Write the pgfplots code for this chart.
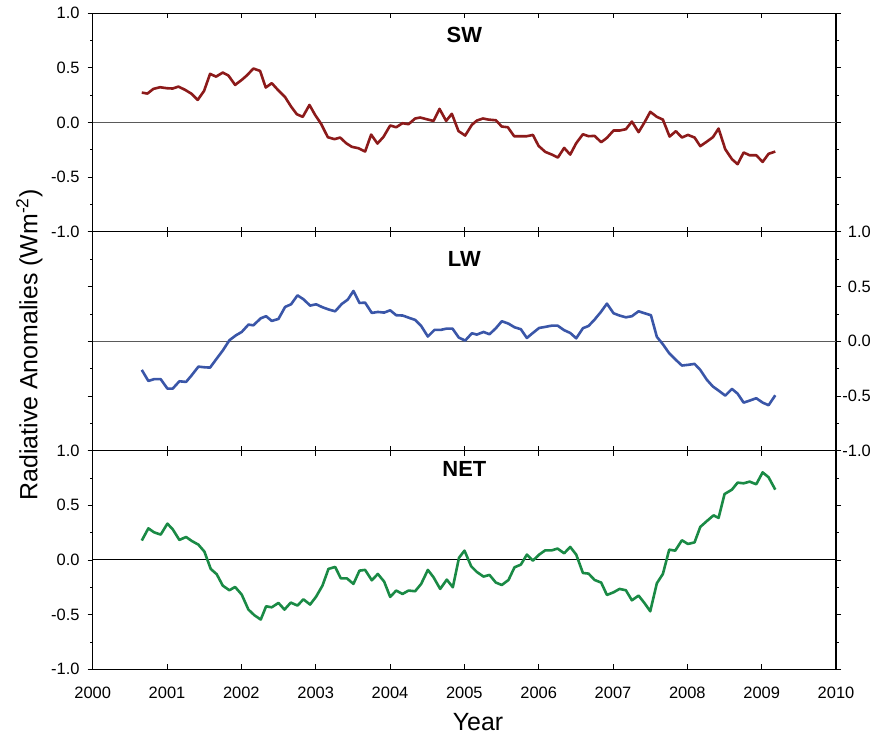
\documentclass[border=0pt]{standalone}
\usepackage{fontspec}
\setmainfont{Liberation Sans}
\usepackage{pgfplots}
\pgfplotsset{compat=1.18}
\definecolor{swred}{RGB}{140,26,26}
\definecolor{lwblue}{RGB}{58,86,168}
\definecolor{netgreen}{RGB}{26,138,69}
\definecolor{zerogray}{RGB}{90,90,90}

\pgfplotsset{
  panel/.style={
    scale only axis, width=743.3bp, height=218.7bp,
    xmin=2000, xmax=2010, ymin=-1, ymax=1,
    xtick={2000,2001,...,2010},
    ytick={-1,-0.5,0,0.5,1},
    minor ytick={-0.75,-0.25,0.25,0.75},
    /pgf/number format/assume math mode=true,
    x tick label style={/pgf/number format/set thousands separator={}},
    y tick label style={/pgf/number format/fixed, /pgf/number format/fixed zerofill, /pgf/number format/precision=1},
    xtick align=inside, ytick align=outside,
    xtick pos=both, ytick pos=both,
    major tick length=5bp, minor tick length=2.5bp,
    tick style={black, line width=0.8bp},
    axis line style={black, line width=1.1bp},
    every tick label/.append style={font=\fontsize{16.5}{18}\selectfont},
    xticklabel style={yshift=-14bp},
  },
  datastyle/.style={line width=2.6bp, line join=round},
}

\begin{document}
\begin{tikzpicture}

% ---------------- SW (top) ----------------
\begin{axis}[panel, at={(0,437.4bp)}, anchor=south west,
  xticklabels={}, yticklabel pos=left, ytick pos=both,
  yticklabel style={inner sep=0pt, anchor=east, xshift=-8bp}]
\addplot[zerogray, line width=1.3bp, forget plot] coordinates {(2000,0) (2010,0)};
\addplot[swred, datastyle] table {
x y
2000.660 0.274
2000.736 0.265
2000.817 0.308
2000.906 0.323
2000.996 0.314
2001.077 0.311
2001.153 0.329
2001.243 0.299
2001.332 0.262
2001.413 0.207
2001.498 0.289
2001.579 0.445
2001.660 0.420
2001.750 0.457
2001.826 0.430
2001.916 0.344
2002.005 0.390
2002.073 0.430
2002.162 0.494
2002.252 0.472
2002.328 0.320
2002.409 0.360
2002.499 0.293
2002.589 0.232
2002.669 0.146
2002.746 0.076
2002.826 0.052
2002.916 0.161
2002.992 0.070
2003.073 -0.012
2003.163 -0.134
2003.253 -0.152
2003.329 -0.137
2003.410 -0.189
2003.486 -0.222
2003.576 -0.235
2003.665 -0.265
2003.746 -0.110
2003.831 -0.192
2003.912 -0.131
2004.002 -0.027
2004.083 -0.043
2004.168 -0.006
2004.249 -0.015
2004.338 0.037
2004.406 0.046
2004.495 0.030
2004.585 0.015
2004.666 0.125
2004.755 0.015
2004.832 0.080
2004.921 -0.078
2005.011 -0.119
2005.101 -0.021
2005.168 0.018
2005.249 0.037
2005.325 0.027
2005.424 0.021
2005.504 -0.037
2005.585 -0.043
2005.670 -0.125
2005.760 -0.125
2005.841 -0.125
2005.922 -0.113
2005.998 -0.213
2006.088 -0.268
2006.177 -0.293
2006.258 -0.320
2006.343 -0.232
2006.424 -0.293
2006.505 -0.189
2006.595 -0.107
2006.671 -0.125
2006.752 -0.122
2006.841 -0.180
2006.918 -0.140
2007.007 -0.073
2007.088 -0.073
2007.173 -0.061
2007.254 0.009
2007.344 -0.088
2007.425 0.003
2007.501 0.098
2007.590 0.052
2007.671 0.027
2007.761 -0.128
2007.846 -0.079
2007.927 -0.137
2008.008 -0.113
2008.097 -0.137
2008.174 -0.216
2008.263 -0.174
2008.344 -0.134
2008.420 -0.055
2008.510 -0.244
2008.600 -0.335
2008.676 -0.381
2008.757 -0.274
2008.838 -0.299
2008.927 -0.299
2009.013 -0.360
2009.093 -0.286
2009.183 -0.265
};
\node[font=\bfseries\fontsize{22}{24}\selectfont] at (axis cs:2005,0.797) {SW};
\end{axis}

% ---------------- LW (middle) ----------------
\begin{axis}[panel, at={(0,218.7bp)}, anchor=south west,
  xticklabels={}, yticklabel pos=right, ytick pos=both,
  yticklabel style={inner sep=0pt, anchor=east, xshift=30bp}]
\addplot[zerogray, line width=1.3bp, forget plot] coordinates {(2000,0) (2010,0)};
\addplot[lwblue, datastyle] table {
x y
2000.660 -0.262
2000.749 -0.363
2000.825 -0.347
2000.915 -0.347
2001.005 -0.433
2001.077 -0.433
2001.166 -0.366
2001.256 -0.372
2001.332 -0.311
2001.422 -0.232
2001.503 -0.238
2001.579 -0.241
2001.669 -0.158
2001.750 -0.085
2001.839 0.009
2001.929 0.055
2002.005 0.085
2002.095 0.152
2002.162 0.146
2002.261 0.210
2002.333 0.229
2002.409 0.186
2002.499 0.204
2002.589 0.314
2002.669 0.338
2002.755 0.420
2002.835 0.384
2002.925 0.326
2003.006 0.338
2003.091 0.311
2003.181 0.289
2003.262 0.274
2003.351 0.341
2003.432 0.381
2003.508 0.460
2003.589 0.350
2003.665 0.353
2003.755 0.259
2003.836 0.268
2003.921 0.262
2004.002 0.283
2004.083 0.238
2004.172 0.235
2004.249 0.216
2004.338 0.195
2004.419 0.140
2004.509 0.043
2004.598 0.104
2004.684 0.104
2004.764 0.116
2004.840 0.116
2004.925 0.034
2005.011 0.006
2005.101 0.073
2005.168 0.061
2005.258 0.085
2005.338 0.064
2005.424 0.119
2005.504 0.183
2005.594 0.161
2005.675 0.128
2005.760 0.110
2005.841 0.030
2005.922 0.076
2006.007 0.122
2006.088 0.131
2006.177 0.143
2006.254 0.143
2006.343 0.101
2006.424 0.076
2006.505 0.027
2006.595 0.119
2006.671 0.140
2006.752 0.198
2006.837 0.268
2006.918 0.344
2007.007 0.256
2007.088 0.235
2007.173 0.219
2007.254 0.229
2007.344 0.274
2007.425 0.256
2007.510 0.238
2007.590 0.040
2007.667 -0.024
2007.756 -0.110
2007.837 -0.165
2007.927 -0.222
2008.008 -0.216
2008.097 -0.207
2008.174 -0.262
2008.263 -0.353
2008.344 -0.414
2008.420 -0.451
2008.510 -0.497
2008.600 -0.436
2008.676 -0.479
2008.757 -0.561
2008.838 -0.543
2008.927 -0.521
2009.013 -0.561
2009.093 -0.585
2009.183 -0.494
};
\node[font=\bfseries\fontsize{22}{24}\selectfont] at (axis cs:2005,0.752) {LW};
\end{axis}

% ---------------- NET (bottom) ----------------
\begin{axis}[panel, at={(0,0)}, anchor=south west,
  yticklabel pos=left, ytick pos=both, xticklabel pos=lower, xtick pos=both,
  yticklabel style={inner sep=0pt, anchor=east, xshift=-8bp}]
\addplot[black, line width=1bp, forget plot] coordinates {(2000,0) (2010,0)};
\addplot[netgreen, datastyle] table {
x y
2000.660 0.177
2000.749 0.289
2000.825 0.253
2000.915 0.232
2001.005 0.332
2001.077 0.280
2001.166 0.183
2001.256 0.210
2001.332 0.174
2001.422 0.140
2001.503 0.076
2001.588 -0.082
2001.669 -0.131
2001.750 -0.235
2001.839 -0.277
2001.916 -0.247
2002.005 -0.317
2002.095 -0.454
2002.176 -0.506
2002.261 -0.545
2002.333 -0.424
2002.409 -0.433
2002.499 -0.393
2002.580 -0.454
2002.665 -0.390
2002.755 -0.417
2002.835 -0.360
2002.925 -0.408
2003.006 -0.335
2003.091 -0.235
2003.172 -0.082
2003.262 -0.064
2003.338 -0.168
2003.419 -0.168
2003.508 -0.219
2003.589 -0.098
2003.665 -0.091
2003.755 -0.186
2003.836 -0.128
2003.921 -0.198
2004.002 -0.338
2004.083 -0.280
2004.168 -0.311
2004.249 -0.280
2004.338 -0.286
2004.419 -0.219
2004.509 -0.091
2004.585 -0.158
2004.675 -0.265
2004.764 -0.180
2004.845 -0.250
2004.928 0.020
2005.002 0.085
2005.092 -0.058
2005.168 -0.110
2005.258 -0.152
2005.338 -0.137
2005.424 -0.207
2005.504 -0.229
2005.594 -0.183
2005.675 -0.067
2005.760 -0.043
2005.841 0.049
2005.922 -0.006
2006.007 0.049
2006.088 0.088
2006.177 0.088
2006.254 0.104
2006.343 0.061
2006.424 0.119
2006.505 0.049
2006.595 -0.119
2006.671 -0.125
2006.752 -0.183
2006.841 -0.207
2006.918 -0.320
2007.007 -0.296
2007.088 -0.265
2007.173 -0.277
2007.254 -0.369
2007.344 -0.326
2007.425 -0.396
2007.501 -0.469
2007.590 -0.213
2007.671 -0.128
2007.756 0.094
2007.837 0.085
2007.927 0.180
2008.008 0.146
2008.097 0.161
2008.174 0.302
2008.263 0.356
2008.353 0.408
2008.420 0.384
2008.501 0.603
2008.600 0.643
2008.676 0.707
2008.757 0.701
2008.838 0.716
2008.927 0.692
2009.013 0.801
2009.093 0.756
2009.183 0.643
};
\node[font=\bfseries\fontsize{22}{24}\selectfont] at (axis cs:2005,0.835) {NET};
\end{axis}

% axis labels
\node[rotate=90, anchor=base, font=\fontsize{25}{28}\selectfont] at (-55.4bp,324.3bp) {Radiative Anomalies (Wm\textsuperscript{-2})};
\node[anchor=base, font=\fontsize{25}{28}\selectfont] at (385.3bp,-60.7bp) {Year};

\pgfresetboundingbox
\path[use as bounding box] (-92.7bp,-64.7bp) rectangle (789.3bp,669.3bp);
\end{tikzpicture}
\end{document}
